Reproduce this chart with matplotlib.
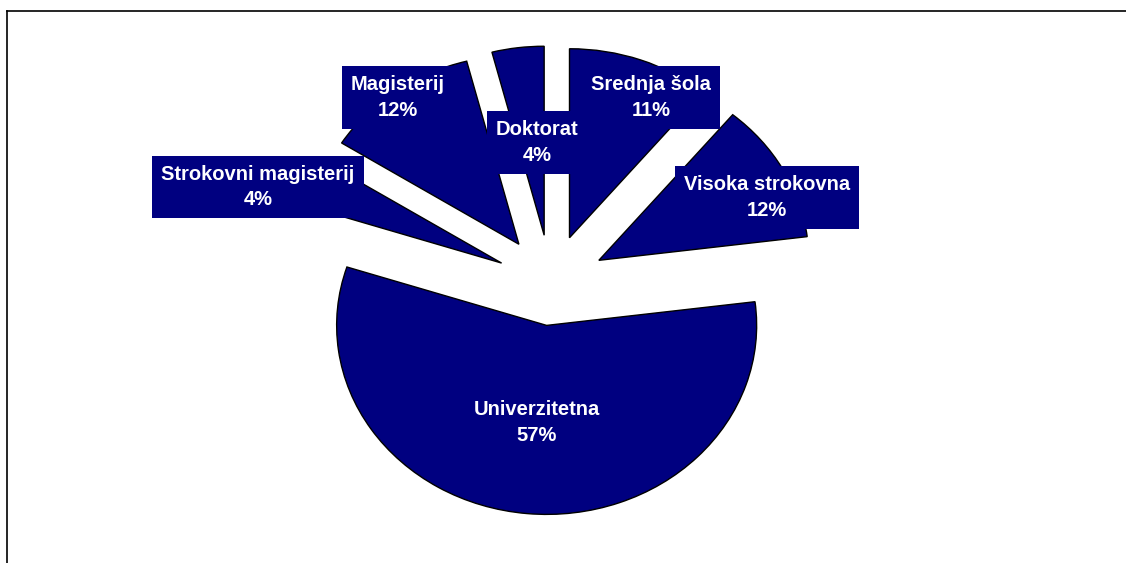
import matplotlib
matplotlib.use('Agg')
import matplotlib.pyplot as plt
from matplotlib.lines import Line2D

# ── Data ──────────────────────────────────────────────────────────────────────
categories = ["Srednja šola", "Visoka strokovna", "Univerzitetna",
              "Strokovni magisterij", "Magisterij", "Doktorat"]
shares = [11, 12, 57, 4, 12, 4]
explode = [0.26, 0.26, 0.22, 0.26, 0.26, 0.26]

# label anchor positions (pie units) – where the data labels sit
label_xy = [(0.476, 0.986), (1.029, 0.457), (-0.067, -0.733),
            (-1.395, 0.512), (-0.729, 0.986), (-0.067, 0.748)]

NAVY = "#000080"
W, H = 1126, 563
CX, CY, RX, RY = 551, 284, 210, 189   # pie centre / radii in pixels

fig = plt.figure(figsize=(W / 100, H / 100), dpi=100)
ax = fig.add_axes([0, 0, 1, 1])

ax.pie(shares, explode=explode, colors=[NAVY] * len(shares),
       startangle=90, counterclock=False,
       wedgeprops=dict(edgecolor='black', linewidth=1.0))
ax.set_aspect('auto')
ax.set_xlim(-CX / RX, (W - CX) / RX)
ax.set_ylim((CY - H) / RY, CY / RY)
ax.axis('off')

for cat, val, (lx, ly) in zip(categories, shares, label_xy):
    ax.text(lx, ly, f"{cat}\n{val}%", ha='center', va='center',
            color='white', fontsize=14.5, fontweight='bold',
            family=['Liberation Sans', 'DejaVu Sans'], linespacing=1.42,
            zorder=10,
            bbox=dict(boxstyle='square,pad=0.45', facecolor=NAVY,
                      edgecolor='none'))

# chart-area border (clipped at right and bottom in the original)
fig.add_artist(Line2D([7 / W, 1.0], [1 - 11 / H, 1 - 11 / H],
                      transform=fig.transFigure, color='black', lw=1.2))
fig.add_artist(Line2D([7 / W, 7 / W], [0.0, 1 - 11 / H],
                      transform=fig.transFigure, color='black', lw=1.2))

fig.savefig("out.png", dpi=100)
